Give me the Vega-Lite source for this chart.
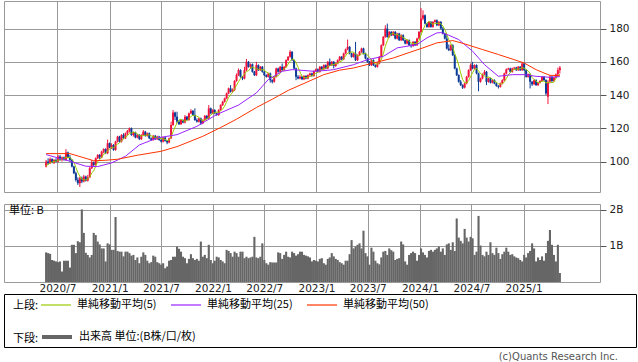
{
"$schema":"https://vega.github.io/schema/vega-lite/v6.json",
"padding":{"left":3,"top":0,"right":0,"bottom":0},
"background":"white",
"datasets":{
"w":[
{"d":"2020-05-22","o":97,"h":101,"l":96.5,"c":100,"v":0.82,"m":97.5},
{"d":"2020-05-29","o":100,"h":102,"l":98,"c":99,"v":0.8,"m":98.3},
{"d":"2020-06-05","o":99,"h":102.5,"l":98.5,"c":101.5,"v":0.78,"m":99.2},
{"d":"2020-06-12","o":101.5,"h":102,"l":99,"c":99.5,"v":0.61,"m":99.7},
{"d":"2020-06-19","o":99.5,"h":101.5,"l":98.5,"c":101,"v":0.59,"m":100.2},
{"d":"2020-06-26","o":101,"h":102,"l":99.5,"c":100,"v":0.57,"m":100.2},
{"d":"2020-07-03","o":100,"h":104,"l":99.5,"c":103,"v":0.55,"m":101},
{"d":"2020-07-10","o":103,"h":104,"l":100.5,"c":101,"v":0.57,"m":100.9},
{"d":"2020-07-17","o":101,"h":103,"l":100,"c":102.5,"v":0.29,"m":101.5},
{"d":"2020-07-24","o":102.5,"h":103,"l":100.5,"c":101,"v":0.59,"m":101.5},
{"d":"2020-07-31","o":101,"h":107.5,"l":100.5,"c":105.5,"v":0.59,"m":102.6},
{"d":"2020-08-07","o":105.5,"h":106,"l":102,"c":102.5,"v":0.59,"m":102.5},
{"d":"2020-08-14","o":102.5,"h":104,"l":100,"c":101,"v":0.4,"m":102.5},
{"d":"2020-08-21","o":101,"h":101.5,"l":96.5,"c":97,"v":1.03,"m":101.4},
{"d":"2020-08-28","o":97,"h":97.5,"l":92.5,"c":93,"v":1.03,"m":99.8},
{"d":"2020-09-04","o":93,"h":94,"l":88,"c":89,"v":0.8,"m":96.5},
{"d":"2020-09-11","o":89,"h":90.5,"l":86,"c":87,"v":1.13,"m":93.4},
{"d":"2020-09-18","o":87,"h":91,"l":84.7,"c":90,"v":1.1,"m":91.2},
{"d":"2020-09-25","o":90,"h":91,"l":87,"c":88,"v":2.01,"m":89.4},
{"d":"2020-10-02","o":88,"h":92,"l":87.5,"c":91,"v":1.36,"m":89},
{"d":"2020-10-09","o":91,"h":91.5,"l":88,"c":88.5,"v":0.81,"m":88.9},
{"d":"2020-10-16","o":88.5,"h":92,"l":88,"c":90.5,"v":0.75,"m":89.6},
{"d":"2020-10-23","o":90.5,"h":97,"l":90,"c":96,"v":0.68,"m":90.8},
{"d":"2020-10-30","o":96,"h":101,"l":95.5,"c":99.5,"v":0.75,"m":93.1},
{"d":"2020-11-06","o":99.5,"h":100,"l":97,"c":98,"v":1.36,"m":94.5},
{"d":"2020-11-13","o":98,"h":102.5,"l":97.5,"c":102,"v":1.3,"m":97.2},
{"d":"2020-11-20","o":102,"h":104.5,"l":101.5,"c":104,"v":1.12,"m":99.9},
{"d":"2020-11-27","o":104,"h":104.5,"l":101.5,"c":102.5,"v":1.04,"m":101.2},
{"d":"2020-12-04","o":102.5,"h":106.5,"l":102,"c":106,"v":0.93,"m":102.5},
{"d":"2020-12-11","o":106,"h":108,"l":105,"c":107.5,"v":0.93,"m":104.4},
{"d":"2020-12-18","o":107.5,"h":108,"l":104.5,"c":105,"v":0.57,"m":105},
{"d":"2020-12-25","o":105,"h":113.2,"l":104.5,"c":111,"v":1.07,"m":106.4},
{"d":"2021-01-01","o":111,"h":111.5,"l":108,"c":108.5,"v":1.04,"m":107.6},
{"d":"2021-01-08","o":108.5,"h":111,"l":107.5,"c":110,"v":0.89,"m":108.4},
{"d":"2021-01-15","o":110,"h":110.5,"l":106.5,"c":107,"v":0.89,"m":108.3},
{"d":"2021-01-22","o":107,"h":112.5,"l":106.5,"c":112,"v":1.8,"m":109.7},
{"d":"2021-01-29","o":112,"h":115.5,"l":111.5,"c":115,"v":0.86,"m":110.5},
{"d":"2021-02-05","o":115,"h":115.5,"l":111.5,"c":112,"v":0.84,"m":111.2},
{"d":"2021-02-12","o":112,"h":116.5,"l":111.5,"c":116,"v":0.84,"m":112.4},
{"d":"2021-02-19","o":116,"h":117,"l":113.5,"c":114,"v":0.71,"m":113.8},
{"d":"2021-02-26","o":114,"h":117.5,"l":113.5,"c":117,"v":0.84,"m":114.8},
{"d":"2021-03-05","o":117,"h":119,"l":116,"c":118.5,"v":0.84,"m":115.5},
{"d":"2021-03-12","o":118.5,"h":120.5,"l":117.5,"c":120,"v":0.8,"m":117.1},
{"d":"2021-03-19","o":120,"h":120.5,"l":115.5,"c":116,"v":0.73,"m":117.1},
{"d":"2021-03-26","o":116,"h":118,"l":115,"c":117.5,"v":0.75,"m":117.8},
{"d":"2021-04-02","o":117.5,"h":118,"l":114,"c":114.5,"v":0.61,"m":117.3},
{"d":"2021-04-09","o":114.5,"h":116.5,"l":114,"c":116,"v":0.68,"m":116.8},
{"d":"2021-04-16","o":116,"h":116.5,"l":113,"c":113.5,"v":0.52,"m":115.5},
{"d":"2021-04-23","o":113.5,"h":116.5,"l":113,"c":116,"v":0.7,"m":115.5},
{"d":"2021-04-30","o":116,"h":119,"l":115.5,"c":118,"v":0.82,"m":115.6},
{"d":"2021-05-07","o":118,"h":118.5,"l":115,"c":115.5,"v":0.75,"m":115.8},
{"d":"2021-05-14","o":115.5,"h":117.5,"l":115,"c":117,"v":0.59,"m":116},
{"d":"2021-05-21","o":117,"h":117.5,"l":113.5,"c":114,"v":0.52,"m":116.1},
{"d":"2021-05-28","o":114,"h":114.5,"l":112.5,"c":113,"v":0.55,"m":115.5},
{"d":"2021-06-04","o":113,"h":116,"l":112.5,"c":115.5,"v":0.73,"m":115},
{"d":"2021-06-11","o":115.5,"h":116,"l":113,"c":113.5,"v":0.7,"m":114.6},
{"d":"2021-06-18","o":113.5,"h":115.5,"l":113,"c":115,"v":0.55,"m":114.2},
{"d":"2021-06-25","o":115,"h":115.5,"l":112.5,"c":113,"v":0.52,"m":114},
{"d":"2021-07-02","o":113,"h":113.5,"l":111.5,"c":112,"v":0.48,"m":113.8},
{"d":"2021-07-09","o":112,"h":115,"l":111.5,"c":114.5,"v":0.52,"m":113.6},
{"d":"2021-07-16","o":114.5,"h":115,"l":112,"c":112.5,"v":0.38,"m":113.4},
{"d":"2021-07-23","o":112.5,"h":113,"l":110.5,"c":111.5,"v":0.43,"m":112.7},
{"d":"2021-07-30","o":111.5,"h":114.5,"l":111,"c":114,"v":0.59,"m":112.9},
{"d":"2021-08-06","o":114,"h":124,"l":113.5,"c":122,"v":0.61,"m":114.9},
{"d":"2021-08-13","o":122,"h":131,"l":121.5,"c":129.5,"v":0.7,"m":117.9},
{"d":"2021-08-20","o":129.5,"h":130,"l":125,"c":127,"v":0.7,"m":120.8},
{"d":"2021-08-27","o":127,"h":130,"l":123,"c":124,"v":0.98,"m":123.3},
{"d":"2021-09-03","o":124,"h":125,"l":122,"c":122.5,"v":0.92,"m":125},
{"d":"2021-09-10","o":122.5,"h":125.5,"l":122,"c":125,"v":0.84,"m":125.6},
{"d":"2021-09-17","o":125,"h":125.5,"l":123,"c":123.5,"v":0.7,"m":124.4},
{"d":"2021-09-24","o":123.5,"h":128,"l":123,"c":127,"v":0.66,"m":124.4},
{"d":"2021-10-01","o":127,"h":127.5,"l":124.5,"c":125,"v":0.52,"m":124.6},
{"d":"2021-10-08","o":125,"h":129.5,"l":124.5,"c":129,"v":0.64,"m":125.9},
{"d":"2021-10-15","o":129,"h":131.5,"l":128.5,"c":130.5,"v":0.77,"m":127},
{"d":"2021-10-22","o":130.5,"h":131,"l":127.5,"c":128,"v":0.66,"m":127.9},
{"d":"2021-10-29","o":128,"h":132,"l":124.5,"c":125,"v":0.61,"m":127.5},
{"d":"2021-11-05","o":125,"h":126,"l":123.5,"c":124,"v":0.64,"m":127.3},
{"d":"2021-11-12","o":124,"h":126.5,"l":123.5,"c":126,"v":0.59,"m":126.7},
{"d":"2021-11-19","o":126,"h":126.5,"l":122,"c":123,"v":1.12,"m":125.2},
{"d":"2021-11-26","o":123,"h":125.5,"l":122.5,"c":125,"v":0.7,"m":124.6},
{"d":"2021-12-03","o":125,"h":128,"l":124.5,"c":127.5,"v":0.75,"m":125.1},
{"d":"2021-12-10","o":127.5,"h":128,"l":125.5,"c":126,"v":0.66,"m":125.5},
{"d":"2021-12-17","o":126,"h":134,"l":125.5,"c":132,"v":1.03,"m":126.7},
{"d":"2021-12-24","o":132,"h":132.5,"l":128.5,"c":129,"v":0.61,"m":127.9},
{"d":"2021-12-31","o":129,"h":131.5,"l":128.5,"c":131,"v":0.52,"m":129.1},
{"d":"2022-01-07","o":131,"h":131.5,"l":128.5,"c":129,"v":0.59,"m":129.4},
{"d":"2022-01-14","o":129,"h":129.5,"l":127.5,"c":128,"v":0.7,"m":129.8},
{"d":"2022-01-21","o":128,"h":131.5,"l":127.5,"c":131,"v":0.68,"m":129.6},
{"d":"2022-01-28","o":131,"h":134.5,"l":130.5,"c":134,"v":0.61,"m":130.6},
{"d":"2022-02-04","o":134,"h":136.5,"l":133.5,"c":136,"v":0.57,"m":131.6},
{"d":"2022-02-11","o":136,"h":138.5,"l":135.5,"c":138,"v":0.52,"m":133.4},
{"d":"2022-02-18","o":138,"h":141.5,"l":137.5,"c":141,"v":0.89,"m":136},
{"d":"2022-02-25","o":141,"h":144.5,"l":140.5,"c":144,"v":0.86,"m":138.6},
{"d":"2022-03-04","o":144,"h":146,"l":141.5,"c":142,"v":0.8,"m":140.2},
{"d":"2022-03-11","o":142,"h":144,"l":141.5,"c":143,"v":0.7,"m":141.6},
{"d":"2022-03-18","o":143,"h":149,"l":142.5,"c":148.5,"v":0.84,"m":143.7},
{"d":"2022-03-25","o":148.5,"h":153,"l":148,"c":152,"v":0.8,"m":145.9},
{"d":"2022-04-01","o":152,"h":156,"l":151.5,"c":155,"v":0.7,"m":148.1},
{"d":"2022-04-08","o":155,"h":155.5,"l":150.5,"c":151,"v":0.84,"m":149.9},
{"d":"2022-04-15","o":151,"h":151.5,"l":149,"c":150,"v":0.84,"m":151.3},
{"d":"2022-04-22","o":150,"h":157,"l":149.5,"c":155,"v":0.66,"m":152.6},
{"d":"2022-04-29","o":155,"h":161.7,"l":154.5,"c":160,"v":0.7,"m":154.2},
{"d":"2022-05-06","o":160,"h":160.5,"l":156.5,"c":157,"v":0.66,"m":154.6},
{"d":"2022-05-13","o":157,"h":159,"l":156,"c":158.5,"v":0.68,"m":156.1},
{"d":"2022-05-20","o":158.5,"h":159,"l":153.5,"c":154,"v":0.7,"m":156.9},
{"d":"2022-05-27","o":154,"h":154.5,"l":151.5,"c":152,"v":1.25,"m":156.3},
{"d":"2022-06-03","o":152,"h":160,"l":151.5,"c":158,"v":0.68,"m":155.9},
{"d":"2022-06-10","o":158,"h":158.5,"l":154.5,"c":155,"v":0.66,"m":155.5},
{"d":"2022-06-17","o":155,"h":157.5,"l":154.5,"c":157,"v":0.7,"m":155.2},
{"d":"2022-06-24","o":157,"h":157.5,"l":153.5,"c":154,"v":1.07,"m":155.2},
{"d":"2022-07-01","o":154,"h":154.5,"l":151.5,"c":152,"v":0.61,"m":155.2},
{"d":"2022-07-08","o":152,"h":152.5,"l":150.5,"c":151,"v":0.52,"m":153.8},
{"d":"2022-07-15","o":151,"h":153.5,"l":150.5,"c":153,"v":0.48,"m":153.4},
{"d":"2022-07-22","o":153,"h":153.5,"l":147.5,"c":149,"v":0.55,"m":151.8},
{"d":"2022-07-29","o":149,"h":149.5,"l":147,"c":148,"v":0.54,"m":150.6},
{"d":"2022-08-05","o":148,"h":151.5,"l":147.5,"c":151,"v":0.54,"m":150.4},
{"d":"2022-08-12","o":151,"h":156.5,"l":150.5,"c":156,"v":0.54,"m":151.4},
{"d":"2022-08-19","o":156,"h":156.5,"l":153.5,"c":154,"v":0.82,"m":151.6},
{"d":"2022-08-26","o":154,"h":157.5,"l":153.5,"c":157,"v":0.8,"m":153.2},
{"d":"2022-09-02","o":157,"h":159,"l":154.5,"c":155,"v":0.64,"m":154.6},
{"d":"2022-09-09","o":155,"h":157.5,"l":154.5,"c":157,"v":0.75,"m":155.8},
{"d":"2022-09-16","o":157,"h":161.5,"l":156.5,"c":161,"v":0.84,"m":156.8},
{"d":"2022-09-23","o":161,"h":163.5,"l":160.5,"c":163,"v":0.7,"m":158.6},
{"d":"2022-09-30","o":163,"h":167,"l":162.5,"c":166,"v":0.68,"m":160.4},
{"d":"2022-10-07","o":166,"h":166.5,"l":160.5,"c":161,"v":0.84,"m":161.6},
{"d":"2022-10-14","o":161,"h":161.5,"l":155.5,"c":156,"v":0.8,"m":161.4},
{"d":"2022-10-21","o":156,"h":156.5,"l":149,"c":151,"v":0.73,"m":159.4},
{"d":"2022-10-28","o":151,"h":152,"l":149.5,"c":150,"v":0.77,"m":156.8},
{"d":"2022-11-04","o":150,"h":152,"l":149.5,"c":151,"v":0.84,"m":153.8},
{"d":"2022-11-11","o":151,"h":151.5,"l":149,"c":149.5,"v":0.84,"m":151.5},
{"d":"2022-11-18","o":149.5,"h":152,"l":149,"c":151.5,"v":0.75,"m":150.6},
{"d":"2022-11-25","o":151.5,"h":152,"l":149.5,"c":150,"v":0.73,"m":150.4},
{"d":"2022-12-02","o":150,"h":152.5,"l":149.5,"c":152,"v":0.71,"m":150.8},
{"d":"2022-12-09","o":152,"h":153.5,"l":151.5,"c":153,"v":0.68,"m":151.2},
{"d":"2022-12-16","o":153,"h":153.5,"l":151,"c":151.5,"v":0.57,"m":151.6},
{"d":"2022-12-23","o":151.5,"h":155,"l":151,"c":154.5,"v":0.61,"m":152.2},
{"d":"2022-12-30","o":154.5,"h":156,"l":154,"c":155.5,"v":0.59,"m":153.3},
{"d":"2023-01-06","o":155.5,"h":156,"l":153.5,"c":154,"v":0.57,"m":153.7},
{"d":"2023-01-13","o":154,"h":157.5,"l":153.5,"c":157,"v":0.64,"m":154.5},
{"d":"2023-01-20","o":157,"h":157.5,"l":155,"c":155.5,"v":0.66,"m":155.3},
{"d":"2023-01-27","o":155.5,"h":158.5,"l":155,"c":158,"v":0.52,"m":156},
{"d":"2023-02-03","o":158,"h":158.5,"l":155.5,"c":156,"v":0.48,"m":156.1},
{"d":"2023-02-10","o":156,"h":160.5,"l":155.5,"c":160,"v":0.64,"m":157.3},
{"d":"2023-02-17","o":160,"h":162,"l":157.5,"c":158,"v":0.68,"m":157.5},
{"d":"2023-02-24","o":158,"h":160.5,"l":157.5,"c":160,"v":0.8,"m":158.4},
{"d":"2023-03-03","o":160,"h":160.5,"l":156,"c":157.5,"v":0.71,"m":158.3},
{"d":"2023-03-10","o":157.5,"h":159.5,"l":157,"c":159,"v":0.64,"m":158.9},
{"d":"2023-03-17","o":159,"h":161.5,"l":158.5,"c":161,"v":0.61,"m":159.1},
{"d":"2023-03-24","o":161,"h":163.5,"l":160.5,"c":163,"v":0.55,"m":160.1},
{"d":"2023-03-31","o":163,"h":163.5,"l":161,"c":161.5,"v":0.52,"m":160.4},
{"d":"2023-04-07","o":161.5,"h":165.5,"l":161,"c":165,"v":0.48,"m":161.9},
{"d":"2023-04-14","o":165,"h":168,"l":164.5,"c":167.5,"v":0.59,"m":163.6},
{"d":"2023-04-21","o":167.5,"h":173.4,"l":167,"c":169,"v":0.59,"m":165.2},
{"d":"2023-04-28","o":169,"h":169.5,"l":164.5,"c":165,"v":0.77,"m":165.6},
{"d":"2023-05-05","o":165,"h":165.5,"l":162.5,"c":163,"v":1.16,"m":165.9},
{"d":"2023-05-12","o":163,"h":165.5,"l":162.5,"c":165,"v":0.93,"m":165.9},
{"d":"2023-05-19","o":165,"h":172,"l":160.5,"c":161,"v":0.98,"m":164.6},
{"d":"2023-05-26","o":161,"h":164.5,"l":160.5,"c":164,"v":1.03,"m":163.6},
{"d":"2023-06-02","o":164,"h":166.5,"l":163.5,"c":166,"v":1.07,"m":163.8},
{"d":"2023-06-09","o":166,"h":168.5,"l":165.5,"c":168,"v":0.93,"m":164.8},
{"d":"2023-06-16","o":168,"h":168.5,"l":164.5,"c":165,"v":1.42,"m":164.8},
{"d":"2023-06-23","o":165,"h":165.5,"l":161.5,"c":162,"v":0.8,"m":165},
{"d":"2023-06-30","o":162,"h":162.5,"l":159.5,"c":160,"v":0.71,"m":164.2},
{"d":"2023-07-07","o":160,"h":160.5,"l":157.5,"c":158,"v":0.48,"m":162.6},
{"d":"2023-07-14","o":158,"h":161.5,"l":157.5,"c":161,"v":0.95,"m":161.2},
{"d":"2023-07-21","o":161,"h":161.5,"l":157.5,"c":158,"v":0.84,"m":159.8},
{"d":"2023-07-28","o":158,"h":158.5,"l":156.5,"c":157,"v":0.59,"m":158.8},
{"d":"2023-08-04","o":157,"h":159.5,"l":156.5,"c":159,"v":0.52,"m":158.6},
{"d":"2023-08-11","o":159,"h":163.5,"l":158.5,"c":163,"v":0.49,"m":159.6},
{"d":"2023-08-18","o":163,"h":170.5,"l":162.5,"c":170,"v":0.68,"m":161.4},
{"d":"2023-08-25","o":170,"h":175.5,"l":169.5,"c":175,"v":0.84,"m":164.8},
{"d":"2023-09-01","o":175,"h":182,"l":174.5,"c":180,"v":0.86,"m":169.4},
{"d":"2023-09-08","o":180,"h":183,"l":174.5,"c":175,"v":0.75,"m":172.6},
{"d":"2023-09-15","o":175,"h":178.5,"l":174.5,"c":178,"v":0.93,"m":175.6},
{"d":"2023-09-22","o":178,"h":178.5,"l":175.5,"c":176,"v":0.88,"m":176.8},
{"d":"2023-09-29","o":176,"h":178.5,"l":175.5,"c":178,"v":0.84,"m":177.4},
{"d":"2023-10-06","o":178,"h":178.5,"l":173.5,"c":174,"v":0.61,"m":176.2},
{"d":"2023-10-13","o":174,"h":177.5,"l":173.5,"c":177,"v":0.64,"m":176.6},
{"d":"2023-10-20","o":177,"h":177.5,"l":172.5,"c":173,"v":0.66,"m":175.6},
{"d":"2023-10-27","o":173,"h":176.5,"l":172.5,"c":176,"v":1.12,"m":175.6},
{"d":"2023-11-03","o":176,"h":176.5,"l":172.5,"c":173,"v":1.04,"m":174.6},
{"d":"2023-11-10","o":173,"h":173.5,"l":170.5,"c":171,"v":0.57,"m":174},
{"d":"2023-11-17","o":171,"h":173.5,"l":170.5,"c":173,"v":0.48,"m":173.2},
{"d":"2023-11-24","o":173,"h":173.5,"l":169.5,"c":170,"v":0.75,"m":172.6},
{"d":"2023-12-01","o":170,"h":171,"l":168.5,"c":169.5,"v":0.8,"m":171.3},
{"d":"2023-12-08","o":169.5,"h":172.5,"l":169,"c":172,"v":0.84,"m":171.1},
{"d":"2023-12-15","o":172,"h":172.5,"l":169.5,"c":170,"v":0.8,"m":170.9},
{"d":"2023-12-22","o":170,"h":174.5,"l":169.5,"c":174,"v":0.59,"m":171.1},
{"d":"2023-12-29","o":174,"h":178.5,"l":173.5,"c":178,"v":0.75,"m":172.7},
{"d":"2024-01-05","o":178,"h":192.4,"l":177.5,"c":186,"v":0.93,"m":176},
{"d":"2024-01-12","o":186,"h":191,"l":185,"c":188,"v":0.82,"m":179.2},
{"d":"2024-01-19","o":188,"h":188.5,"l":182.5,"c":183,"v":0.75,"m":181.8},
{"d":"2024-01-26","o":183,"h":183.5,"l":180.5,"c":181,"v":0.68,"m":183.2},
{"d":"2024-02-02","o":181,"h":184.5,"l":180.5,"c":184,"v":0.86,"m":184.4},
{"d":"2024-02-09","o":184,"h":184.5,"l":180.5,"c":181,"v":0.89,"m":183.4},
{"d":"2024-02-16","o":181,"h":184.5,"l":180.5,"c":184,"v":0.84,"m":182.6},
{"d":"2024-02-23","o":184,"h":185.5,"l":183.5,"c":185,"v":0.89,"m":183},
{"d":"2024-03-01","o":185,"h":185.5,"l":181.5,"c":182,"v":0.93,"m":183.2},
{"d":"2024-03-08","o":182,"h":184.5,"l":181.5,"c":184,"v":0.98,"m":183.2},
{"d":"2024-03-15","o":184,"h":184.5,"l":179.5,"c":180,"v":0.84,"m":183},
{"d":"2024-03-22","o":180,"h":181,"l":176.5,"c":177,"v":0.93,"m":181.6},
{"d":"2024-03-29","o":177,"h":177.5,"l":173.5,"c":174,"v":0.75,"m":179.4},
{"d":"2024-04-05","o":174,"h":176,"l":167.5,"c":168,"v":1.04,"m":176.6},
{"d":"2024-04-12","o":168,"h":170.5,"l":166.5,"c":167,"v":1.07,"m":173.2},
{"d":"2024-04-19","o":167,"h":170.5,"l":166.5,"c":170,"v":0.89,"m":171.2},
{"d":"2024-04-26","o":170,"h":170.5,"l":163.5,"c":164,"v":1.1,"m":168.6},
{"d":"2024-05-03","o":164,"h":164.5,"l":155.5,"c":156,"v":0.86,"m":165},
{"d":"2024-05-10","o":156,"h":156.5,"l":151.5,"c":152,"v":1.76,"m":161.8},
{"d":"2024-05-17","o":152,"h":152.5,"l":147.5,"c":148,"v":1.23,"m":158},
{"d":"2024-05-24","o":148,"h":149,"l":145.5,"c":146,"v":1.14,"m":153.2},
{"d":"2024-05-31","o":146,"h":146.5,"l":143.7,"c":144.5,"v":1.07,"m":149.3},
{"d":"2024-06-07","o":144.5,"h":147.5,"l":144,"c":147,"v":1.47,"m":147.5},
{"d":"2024-06-14","o":147,"h":151.5,"l":146.5,"c":151,"v":1.23,"m":147.3},
{"d":"2024-06-21","o":151,"h":155.5,"l":150.5,"c":155,"v":1.12,"m":148.7},
{"d":"2024-06-28","o":155,"h":159,"l":154.5,"c":158,"v":1.25,"m":151.1},
{"d":"2024-07-05","o":158,"h":160,"l":155.5,"c":156,"v":1.21,"m":153.4},
{"d":"2024-07-12","o":156,"h":158.5,"l":155.5,"c":158,"v":0.75,"m":155.6},
{"d":"2024-07-19","o":158,"h":158.5,"l":152.5,"c":153,"v":0.84,"m":156},
{"d":"2024-07-26","o":153,"h":153.5,"l":142.3,"c":148,"v":1.83,"m":154.6},
{"d":"2024-08-02","o":148,"h":150.5,"l":147.5,"c":150,"v":1.01,"m":153},
{"d":"2024-08-09","o":150,"h":153,"l":149.5,"c":152.5,"v":0.75,"m":152.3},
{"d":"2024-08-16","o":152.5,"h":155,"l":152,"c":154,"v":0.71,"m":151.5},
{"d":"2024-08-23","o":154,"h":154.5,"l":146,"c":148,"v":0.84,"m":150.5},
{"d":"2024-08-30","o":148,"h":150.5,"l":147.5,"c":150,"v":0.75,"m":150.9},
{"d":"2024-09-06","o":150,"h":150.5,"l":147,"c":147.5,"v":1.1,"m":150.4},
{"d":"2024-09-13","o":147.5,"h":149.5,"l":147,"c":149,"v":0.8,"m":149.7},
{"d":"2024-09-20","o":149,"h":149.5,"l":146.5,"c":147,"v":0.75,"m":148.3},
{"d":"2024-09-27","o":147,"h":147.5,"l":145,"c":145.5,"v":0.95,"m":147.8},
{"d":"2024-10-04","o":145.5,"h":146,"l":144,"c":145,"v":0.8,"m":146.8},
{"d":"2024-10-11","o":145,"h":147.5,"l":144.5,"c":147,"v":0.64,"m":146.7},
{"d":"2024-10-18","o":147,"h":149.5,"l":146.5,"c":149,"v":0.77,"m":146.7},
{"d":"2024-10-25","o":149,"h":153.5,"l":148.5,"c":153,"v":0.84,"m":147.9},
{"d":"2024-11-01","o":153,"h":156,"l":152.5,"c":155.5,"v":0.95,"m":149.9},
{"d":"2024-11-08","o":155.5,"h":156.5,"l":155,"c":156,"v":0.84,"m":152.1},
{"d":"2024-11-15","o":156,"h":156.5,"l":153.5,"c":154,"v":0.75,"m":153.5},
{"d":"2024-11-22","o":154,"h":156.5,"l":153.5,"c":156,"v":0.77,"m":154.9},
{"d":"2024-11-29","o":156,"h":157,"l":155,"c":156.5,"v":0.71,"m":155.6},
{"d":"2024-12-06","o":156.5,"h":157,"l":154.5,"c":155,"v":0.68,"m":155.5},
{"d":"2024-12-13","o":155,"h":157.5,"l":154.5,"c":157,"v":0.66,"m":155.7},
{"d":"2024-12-20","o":157,"h":157.5,"l":154.5,"c":155,"v":0.61,"m":155.9},
{"d":"2024-12-27","o":155,"h":160,"l":154.5,"c":159,"v":0.57,"m":156.5},
{"d":"2025-01-03","o":159,"h":159.5,"l":154.5,"c":155,"v":0.75,"m":156.2},
{"d":"2025-01-10","o":155,"h":155.5,"l":150.5,"c":151,"v":0.68,"m":155.4},
{"d":"2025-01-17","o":151,"h":153,"l":150.5,"c":152.5,"v":0.8,"m":154.5},
{"d":"2025-01-24","o":152.5,"h":153,"l":144,"c":148,"v":0.86,"m":153.1},
{"d":"2025-01-31","o":148,"h":148.5,"l":145.5,"c":146.5,"v":1.07,"m":150.6},
{"d":"2025-02-07","o":146.5,"h":149.5,"l":146,"c":149,"v":0.93,"m":149.4},
{"d":"2025-02-14","o":149,"h":149.5,"l":145.5,"c":146,"v":0.57,"m":148.4},
{"d":"2025-02-21","o":146,"h":148,"l":145.5,"c":147.5,"v":0.68,"m":147.4},
{"d":"2025-02-28","o":147.5,"h":149,"l":147,"c":148.5,"v":0.61,"m":147.5},
{"d":"2025-03-07","o":148.5,"h":151.5,"l":148,"c":151,"v":0.71,"m":148.4},
{"d":"2025-03-14","o":151,"h":151.5,"l":148.5,"c":149,"v":0.59,"m":148.4},
{"d":"2025-03-21","o":149,"h":149.5,"l":140,"c":141,"v":0.8,"m":147.4},
{"d":"2025-03-28","o":139,"h":149,"l":134.6,"c":148,"v":1.14,"m":147.5},
{"d":"2025-04-04","o":148,"h":152,"l":147,"c":151,"v":1.44,"m":148},
{"d":"2025-04-11","o":151,"h":151.5,"l":147.5,"c":148.5,"v":1.03,"m":147.5},
{"d":"2025-04-18","o":148.5,"h":151,"l":148,"c":150.5,"v":0.75,"m":147.8},
{"d":"2025-04-25","o":150.5,"h":153,"l":150,"c":152.5,"v":0.57,"m":150.1},
{"d":"2025-05-02","o":152.5,"h":156.5,"l":151.5,"c":155,"v":1.03,"m":151.5},
{"d":"2025-05-09","o":155,"h":157.5,"l":153,"c":156.5,"v":0.25,"m":152.6}
],
"ma":[
{"d":"2020-05-22","s":"単純移動平均(25)","p":104.2},
{"d":"2020-08-14","s":"単純移動平均(25)","p":100.2},
{"d":"2020-10-09","s":"単純移動平均(25)","p":97.2},
{"d":"2020-11-20","s":"単純移動平均(25)","p":97},
{"d":"2021-01-08","s":"単純移動平均(25)","p":99.2},
{"d":"2021-02-26","s":"単純移動平均(25)","p":103.2},
{"d":"2021-04-16","s":"単純移動平均(25)","p":110},
{"d":"2021-06-18","s":"単純移動平均(25)","p":114.2},
{"d":"2021-08-27","s":"単純移動平均(25)","p":116.2},
{"d":"2021-11-05","s":"単純移動平均(25)","p":121.2},
{"d":"2022-01-14","s":"単純移動平均(25)","p":128.3},
{"d":"2022-04-01","s":"単純移動平均(25)","p":134},
{"d":"2022-06-03","s":"単純移動平均(25)","p":141.3},
{"d":"2022-07-15","s":"単純移動平均(25)","p":149.3},
{"d":"2022-09-02","s":"単純移動平均(25)","p":154.3},
{"d":"2022-10-07","s":"単純移動平均(25)","p":155.3},
{"d":"2022-11-11","s":"単純移動平均(25)","p":154.9},
{"d":"2022-12-23","s":"単純移動平均(25)","p":154.3},
{"d":"2023-02-10","s":"単純移動平均(25)","p":154.9},
{"d":"2023-03-03","s":"単純移動平均(25)","p":155.3},
{"d":"2023-05-12","s":"単純移動平均(25)","p":158.3},
{"d":"2023-06-30","s":"単純移動平均(25)","p":161.3},
{"d":"2023-08-25","s":"単純移動平均(25)","p":163.3},
{"d":"2023-10-13","s":"単純移動平均(25)","p":168.4},
{"d":"2023-12-22","s":"単純移動平均(25)","p":170.4},
{"d":"2024-01-26","s":"単純移動平均(25)","p":174.4},
{"d":"2024-03-01","s":"単純移動平均(25)","p":177.4},
{"d":"2024-03-15","s":"単純移動平均(25)","p":177.6},
{"d":"2024-04-12","s":"単純移動平均(25)","p":176},
{"d":"2024-05-17","s":"単純移動平均(25)","p":173.4},
{"d":"2024-07-05","s":"単純移動平均(25)","p":166.4},
{"d":"2024-08-16","s":"単純移動平均(25)","p":158.3},
{"d":"2024-10-04","s":"単純移動平均(25)","p":151.3},
{"d":"2024-11-22","s":"単純移動平均(25)","p":152.3},
{"d":"2025-01-03","s":"単純移動平均(25)","p":152.3},
{"d":"2025-02-14","s":"単純移動平均(25)","p":151.3},
{"d":"2025-04-04","s":"単純移動平均(25)","p":150.7},
{"d":"2025-05-09","s":"単純移動平均(25)","p":151.1},
{"d":"2020-05-22","s":"単純移動平均(50)","p":104.8},
{"d":"2020-08-14","s":"単純移動平均(50)","p":104.8},
{"d":"2020-10-16","s":"単純移動平均(50)","p":101.6},
{"d":"2020-11-06","s":"単純移動平均(50)","p":100.5},
{"d":"2020-12-18","s":"単純移動平均(50)","p":100.8},
{"d":"2021-01-29","s":"単純移動平均(50)","p":101.4},
{"d":"2021-04-09","s":"単純移動平均(50)","p":103.8},
{"d":"2021-07-02","s":"単純移動平均(50)","p":106.2},
{"d":"2021-08-27","s":"単純移動平均(50)","p":109},
{"d":"2021-11-26","s":"単純移動平均(50)","p":115.2},
{"d":"2022-01-28","s":"単純移動平均(50)","p":120.5},
{"d":"2022-03-25","s":"単純移動平均(50)","p":125.5},
{"d":"2022-06-03","s":"単純移動平均(50)","p":132.5},
{"d":"2022-07-29","s":"単純移動平均(50)","p":137.5},
{"d":"2022-09-23","s":"単純移動平均(50)","p":142.8},
{"d":"2022-11-18","s":"単純移動平均(50)","p":147},
{"d":"2023-01-27","s":"単純移動平均(50)","p":152.3},
{"d":"2023-03-24","s":"単純移動平均(50)","p":155},
{"d":"2023-05-12","s":"単純移動平均(50)","p":156.3},
{"d":"2023-07-21","s":"単純移動平均(50)","p":159.3},
{"d":"2023-09-29","s":"単純移動平均(50)","p":162.3},
{"d":"2023-12-08","s":"単純移動平均(50)","p":166.4},
{"d":"2024-01-12","s":"単純移動平均(50)","p":168.4},
{"d":"2024-03-01","s":"単純移動平均(50)","p":171.4},
{"d":"2024-04-26","s":"単純移動平均(50)","p":172.8},
{"d":"2024-06-07","s":"単純移動平均(50)","p":170.8},
{"d":"2024-08-09","s":"単純移動平均(50)","p":167.4},
{"d":"2024-10-04","s":"単純移動平均(50)","p":164.4},
{"d":"2024-11-29","s":"単純移動平均(50)","p":161.3},
{"d":"2025-01-03","s":"単純移動平均(50)","p":159.3},
{"d":"2025-02-14","s":"単純移動平均(50)","p":155.3},
{"d":"2025-03-14","s":"単純移動平均(50)","p":153.3},
{"d":"2025-04-04","s":"単純移動平均(50)","p":151.9},
{"d":"2025-05-09","s":"単純移動平均(50)","p":151.7}
]
},
"config":{
"view":{"stroke":"#999999","strokeWidth":1},
"axis":{"gridColor":"#999999","gridWidth":1,"gridOpacity":1,"labelFont":"DejaVu Sans","labelFontSize":10.5,"labelColor":"#222222","domain":false}
},
"spacing":12,
"bounds":"flush",
"resolve":{"scale":{"x":"independent","y":"independent","color":"independent"},"axis":{"x":"independent","y":"independent"},"legend":{"color":"independent"}},
"vconcat":[
{"width":596,"height":191,"data":{"name":"w"},
"layer":[
{"mark":{"type":"rule","strokeWidth":1},
"encoding":{
"x":{"field":"d","type":"temporal","scale":{"type":"utc","domain":[{"year":2020,"month":1,"date":12,"utc":true},{"year":2025,"month":9,"date":10,"utc":true}]},
"axis":{"values":[{"year":2020,"month":7,"date":1,"utc":true},{"year":2021,"month":1,"date":1,"utc":true},{"year":2021,"month":7,"date":1,"utc":true},{"year":2022,"month":1,"date":1,"utc":true},{"year":2022,"month":7,"date":1,"utc":true},{"year":2023,"month":1,"date":1,"utc":true},{"year":2023,"month":7,"date":1,"utc":true},{"year":2024,"month":1,"date":1,"utc":true},{"year":2024,"month":7,"date":1,"utc":true},{"year":2025,"month":1,"date":1,"utc":true}],"labels":false,"ticks":false,"domain":false,"grid":true,"title":null}},
"y":{"field":"l","type":"quantitative","scale":{"domain":[81.7,196.6],"zero":false,"nice":false},
"axis":{"orient":"right","values":[100,120,140,160,180],"grid":true,"ticks":true,"tickSize":6,"tickColor":"#555555","labelPadding":3,"title":null,"domain":false}},
"y2":{"field":"h"},
"color":{"condition":{"test":"datum.c >= datum.o","value":"#f0143c"},"value":"#0a3a96"}}},
{"mark":{"type":"bar","size":2},
"encoding":{
"x":{"field":"d","type":"temporal"},
"y":{"field":"o","type":"quantitative"},
"y2":{"field":"c"},
"color":{"condition":{"test":"datum.c >= datum.o","value":"#f0143c"},"value":"#0a3a96"}}},
{"mark":{"type":"line","strokeWidth":1},
"encoding":{
"x":{"field":"d","type":"temporal"},
"y":{"field":"m","type":"quantitative"},
"color":{"datum":"単純移動平均(5)","type":"nominal",
"scale":{"domain":["単純移動平均(5)","単純移動平均(25)","単純移動平均(50)"],"range":["#99cc00","#9922ff","#ff3300"]},
"legend":{"title":"上段:","orient":"none","legendX":9,"legendY":288,"direction":"horizontal","titleOrient":"left","titleAnchor":"middle","titleBaseline":"top","symbolType":"stroke","symbolSize":900,"symbolStrokeWidth":1.2,"labelOffset":5,"columnPadding":11,"titlePadding":1,"labelFont":"Noto Sans CJK JP","labelFontSize":11,"titleFont":"Noto Sans CJK JP","titleFontSize":11,"titleFontWeight":"normal","labelColor":"#000000","titleColor":"#000000","padding":0,"labelLimit":300,"labelExpr":"datum.label === '単純移動平均(25)' ? datum.label + '\u00a0\u00a0\u00a0' : datum.label"}}}},
{"data":{"name":"ma"},"mark":{"type":"line","strokeWidth":1},
"encoding":{
"x":{"field":"d","type":"temporal"},
"y":{"field":"p","type":"quantitative"},
"color":{"field":"s","type":"nominal",
"scale":{"domain":["単純移動平均(5)","単純移動平均(25)","単純移動平均(50)"],"range":["#99cc00","#9922ff","#ff3300"]},
"legend":{"title":"上段:","orient":"none","legendX":9,"legendY":288,"direction":"horizontal","titleOrient":"left","titleAnchor":"middle","titleBaseline":"top","symbolType":"stroke","symbolSize":900,"symbolStrokeWidth":1.2,"labelOffset":5,"columnPadding":11,"titlePadding":1,"labelFont":"Noto Sans CJK JP","labelFontSize":11,"titleFont":"Noto Sans CJK JP","titleFontSize":11,"titleFontWeight":"normal","labelColor":"#000000","titleColor":"#000000","padding":0,"labelLimit":300,"labelExpr":"datum.label === '単純移動平均(25)' ? datum.label + '\u00a0\u00a0\u00a0' : datum.label"}}}}
]},
{"width":596,"height":78,"data":{"name":"w"},
"title":{"text":"単位: B","anchor":"start","frame":"group","orient":"top","offset":-12,"dx":5,"fontSize":11,"font":"Noto Sans CJK JP","fontWeight":"normal","color":"#000000"},
"mark":{"type":"bar","size":2.1},
"encoding":{
"x":{"field":"d","type":"temporal","scale":{"type":"utc","domain":[{"year":2020,"month":1,"date":12,"utc":true},{"year":2025,"month":9,"date":10,"utc":true}]},
"axis":{"values":[{"year":2020,"month":7,"date":1,"utc":true},{"year":2021,"month":1,"date":1,"utc":true},{"year":2021,"month":7,"date":1,"utc":true},{"year":2022,"month":1,"date":1,"utc":true},{"year":2022,"month":7,"date":1,"utc":true},{"year":2023,"month":1,"date":1,"utc":true},{"year":2023,"month":7,"date":1,"utc":true},{"year":2024,"month":1,"date":1,"utc":true},{"year":2024,"month":7,"date":1,"utc":true},{"year":2025,"month":1,"date":1,"utc":true}],"labelExpr":"utcFormat(datum.value, '%Y/%-m')","labelPadding":1.5,"ticks":false,"domain":false,"grid":true,"title":null,"labelOverlap":false,"labelFlush":false}},
"y":{"field":"v","type":"quantitative","scale":{"domain":[0,2.16],"nice":false},
"axis":{"orient":"right","values":[1,2],"labelExpr":"datum.value + 'B'","tickSize":6,"tickColor":"#555555","labelPadding":3,"title":null,"grid":true,"domain":false}},
"color":{"datum":"出来高 単位:(B株/口/枚)","type":"nominal","scale":{"domain":["出来高 単位:(B株/口/枚)"],"range":["#666666"]},
"legend":{"title":"下段:","orient":"none","legendX":9,"legendY":116,"direction":"horizontal","titleOrient":"left","titleAnchor":"middle","titleBaseline":"top","symbolType":"stroke","symbolSize":900,"symbolStrokeWidth":4,"symbolStrokeColor":"#666666","labelOffset":5,"titlePadding":1,"labelFont":"Noto Sans CJK JP","labelFontSize":11,"titleFont":"Noto Sans CJK JP","titleFontSize":11,"titleFontWeight":"normal","labelColor":"#000000","titleColor":"#000000","padding":0,"labelLimit":300,
"encode":{"symbols":{"update":{"stroke":{"value":"#666666"},"strokeWidth":{"value":4}}}}}}}},
{"width":632,"height":53,"data":{"values":[]},"mark":{"type":"point"},"encoding":{},
"view":{"stroke":"#000000","strokeWidth":1},
"title":{"text":"(c)Quants Research Inc.","orient":"bottom","anchor":"end","frame":"group","offset":5,"dx":-18,"fontSize":10,"font":"DejaVu Sans","fontWeight":"normal","color":"#555555"}}
]
}
